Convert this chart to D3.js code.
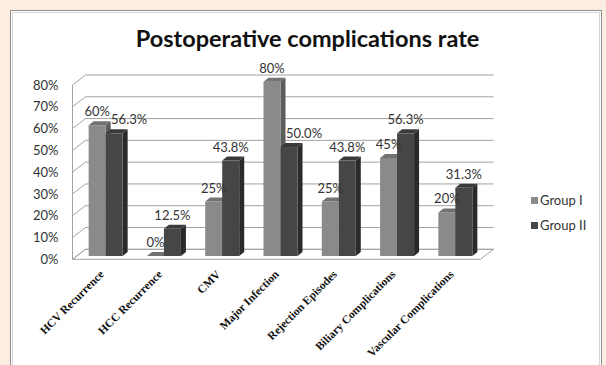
<!DOCTYPE html>
<html>
<head>
<meta charset="utf-8">
<script src="https://cdn.jsdelivr.net/npm/d3@7/dist/d3.min.js"></script>
<style>
  html, body { margin: 0; padding: 0; background: #fcede3; }
  svg { display: block; }
</style>
</head>
<body>
<svg id="chart" width="606" height="365"></svg>
<script>
// Complication categories and the two groups' rates
const categories = ["HCV Recurrence", "HCC Recurrence", "CMV", "Major Infection",
                    "Rejection Episodes", "Biliary Complications", "Vascular Complications"];
const groups = ["Group I", "Group II"];
const groupI  = [0.60, 0.00, 0.25, 0.80, 0.25, 0.45, 0.20];
const groupII = [0.563, 0.125, 0.438, 0.50, 0.438, 0.563, 0.313];
const labelsI  = ["60%", "0%", "25%", "80%", "25%", "45%", "20%"];
const labelsII = ["56.3%", "12.5%", "43.8%", "50.0%", "43.8%", "56.3%", "31.3%"];
const tickValues = [0, 0.1, 0.2, 0.3, 0.4, 0.5, 0.6, 0.7, 0.8];

const svg = d3.select("#chart");

// card panel
svg.append("rect").attr("x", 10.5).attr("y", 10.5).attr("width", 591).attr("height", 370)
  .attr("fill", "#ffffff").attr("stroke", "#8f8f8f").attr("stroke-width", 1);
svg.append("rect").attr("x", 12.5).attr("y", 12.5).attr("width", 587).attr("height", 366)
  .attr("fill", "none").attr("stroke", "#d6d6d6").attr("stroke-width", 1);

// title
svg.append("text").attr("x", 307.5).attr("y", 47)
  .attr("text-anchor", "middle")
  .attr("font-family", "Lato, 'Open Sans', sans-serif")
  .attr("font-weight", "bold").attr("font-size", 23.5).attr("fill", "#111")
  .text("Postoperative complications rate");

// 3D frame geometry
const left = 72.5, right = 480.5;
const depth = { dx: 13, dy: -10 };       // wall depth
const barOff = { dx: 4, dy: -3.3 };      // bar front face sits inside the floor
const barDepth = { dx: 5, dy: -4 };

const x = d3.scaleBand().domain(categories).range([left, right]).paddingInner(0).paddingOuter(0);
const y = d3.scaleLinear().domain([0, 0.8]).range([259.3, 85]);
const barW = 17;
const xg = d3.scaleBand().domain(groups).range([0, 2 * barW]);

const gridColor = "#a3a3a3";

// floor
const y0 = y(0);
svg.append("path")
  .attr("d", `M${left},${y0} L${right},${y0} L${right + depth.dx},${y0 + depth.dy} L${left + depth.dx},${y0 + depth.dy} Z`)
  .attr("fill", "#ffffff").attr("stroke", gridColor).attr("stroke-width", 1);

// gridlines on side wall and back wall
svg.append("g").selectAll("path").data(tickValues).join("path")
  .attr("d", v => {
    const yy = y(v);
    return `M${left},${yy} L${left + depth.dx},${yy + depth.dy} L${right + depth.dx},${yy + depth.dy}`;
  })
  .attr("fill", "none").attr("stroke", gridColor).attr("stroke-width", 1);

// side wall front edge
svg.append("line").attr("x1", left).attr("x2", left).attr("y1", y(0.8)).attr("y2", y0)
  .attr("stroke", gridColor).attr("stroke-width", 1);

// y axis labels
const yAxis = d3.axisLeft(y).tickValues(tickValues).tickFormat(d3.format(".0%"))
  .tickSize(0).tickPadding(14);
const ya = svg.append("g").attr("transform", `translate(${left},0)`).call(yAxis);
ya.select(".domain").remove();
ya.selectAll("text").attr("font-family", "Lato, 'Open Sans', sans-serif")
  .attr("font-size", 13).attr("fill", "#333");

// bars
const colors = {
  "Group I":  { front: "#8a8a8a", top: "#727272", side: "#5c5c5c" },
  "Group II": { front: "#464646", top: "#3a3a3a", side: "#2a2a2a" }
};
const rows = categories.map((c, i) => ({ cat: c, vals: [groupI[i], groupII[i]], labels: [labelsI[i], labelsII[i]] }));
const innerPad = (x.bandwidth() - 2 * barW) / 2;

const barsG = svg.append("g");
rows.forEach(r => {
  groups.forEach((g, gi) => {
    const v = r.vals[gi];
    const x0 = x(r.cat) + innerPad + xg(g) + barOff.dx;
    const base = y(0) + barOff.dy;
    const top = y(v) + barOff.dy;
    const w = xg.bandwidth();
    const c = colors[g];
    const bg = barsG.append("g");
    // side face
    bg.append("path")
      .attr("d", `M${x0 + w},${top} L${x0 + w + barDepth.dx},${top + barDepth.dy} L${x0 + w + barDepth.dx},${base + barDepth.dy} L${x0 + w},${base} Z`)
      .attr("fill", c.side);
    // front face
    bg.append("rect").attr("x", x0).attr("y", top).attr("width", w).attr("height", Math.max(0, base - top))
      .attr("fill", c.front);
    // top face
    bg.append("path")
      .attr("d", `M${x0},${top} L${x0 + w},${top} L${x0 + w + barDepth.dx},${top + barDepth.dy} L${x0 + barDepth.dx},${top + barDepth.dy} Z`)
      .attr("fill", c.top);
  });
});

// value labels
const labelG = svg.append("g")
  .attr("font-family", "Lato, 'Open Sans', sans-serif").attr("font-size", 13).attr("fill", "#333")
  .attr("text-anchor", "middle");
rows.forEach(r => {
  groups.forEach((g, gi) => {
    const v = r.vals[gi];
    let cx = x(r.cat) + innerPad + xg(g) + barOff.dx + xg.bandwidth() / 2;
    // nudge the second label right when it sits just below the first one
    if (gi === 1 && r.vals[1] < r.vals[0]) cx += 15;
    const cy = y(v) + barOff.dy - 13.5;
    labelG.append("text").attr("x", cx).attr("y", cy).attr("dy", "0.35em").text(r.labels[gi]);
  });
});

// category labels (rotated)
svg.append("g").selectAll("text").data(categories).join("text")
  .attr("transform", d => `translate(${x(d) + x.bandwidth() / 2 + 3},275) rotate(-45)`)
  .attr("text-anchor", "end")
  .attr("font-family", "'Liberation Serif', 'Times New Roman', serif")
  .attr("font-weight", "bold").attr("font-size", 11.5).attr("fill", "#111")
  .text(d => d);

// legend
const legend = svg.append("g").selectAll("g").data(groups).join("g")
  .attr("transform", (d, i) => `translate(531,${197 + i * 25})`);
legend.append("rect").attr("width", 7).attr("height", 7).attr("fill", d => colors[d].front);
legend.append("text").attr("x", 9).attr("y", 3.5).attr("dy", "0.35em")
  .attr("font-family", "Lato, 'Open Sans', sans-serif").attr("font-size", 13).attr("fill", "#333")
  .text(d => d);
</script>
</body>
</html>
